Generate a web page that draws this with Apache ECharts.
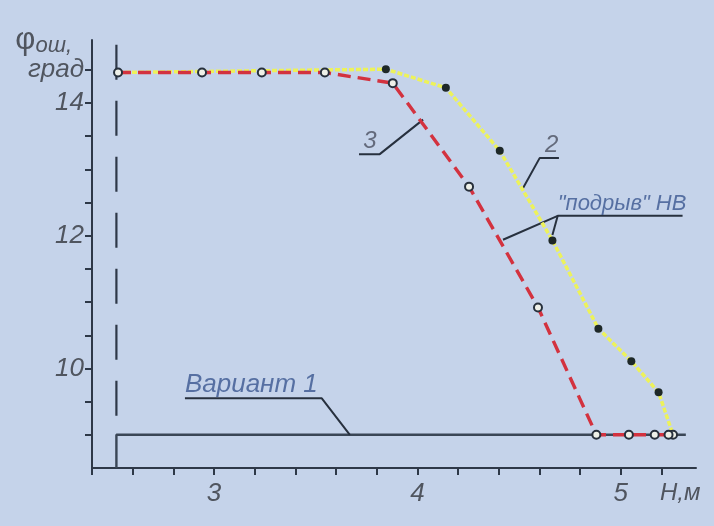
<!DOCTYPE html>
<html>
<head>
<meta charset="utf-8">
<script src="https://cdn.jsdelivr.net/npm/echarts@6/dist/echarts.min.js"></script>
<style>
  html, body { margin: 0; padding: 0; background: #c5d3ea; }
  #chart { width: 714px; height: 526px; }
</style>
</head>
<body>
<div id="chart"></div>
<script>
const FONT = '"Liberation Sans", Arial, sans-serif';

// Curve 3: red dashed, open circles  (H, m ; φ, deg)
const curve3 = [
  [2.528, 14.46], [2.941, 14.46], [3.235, 14.46], [3.545, 14.46], [3.879, 14.30],
  [4.254, 12.74], [4.593, 10.92], [4.880, 9.0], [5.040, 9.0], [5.167, 9.0], [5.235, 9.0]
];
// Curve 2: yellow dotted, filled dots (last point open)
const curve2 = [
  [2.528, 14.46], [3.845, 14.51], [4.140, 14.23], [4.405, 13.28], [4.664, 11.93],
  [4.890, 10.60], [5.052, 10.11], [5.186, 9.64], [5.257, 9.0]
];
// Variant 1: step up from the axis to 9° and flat to the end
const variant1 = [[2.52, 8.5], [2.52, 9.0], [5.32, 9.0]];
// Dashed vertical marker above the variant-1 step
const startLine = [[2.52, 14.88], [2.52, 9.0]];

// Leader lines for the curve labels
const leaderV1 = [[2.857, 9.55], [3.53, 9.55], [3.668, 9.0]];
const leader3 = [[3.713, 13.23], [3.815, 13.23], [4.028, 13.75]];
const leader2 = [[4.519, 12.717], [4.601, 13.17], [4.696, 13.17]];
const leaderBlastA = [[4.421, 11.94], [4.690, 12.30], [5.304, 12.30]];
const leaderBlastB = [[4.690, 12.30], [4.664, 12.01]];

// Label texts with their anchor points
const labelTexts = ['Вариант 1', '3', '2', '"подрыв" НВ'];
const labelAnchors = [[2.857, 9.55], [3.766, 13.23], [4.66, 13.17], [4.69, 12.30]];
const labelAlign = ['left', 'center', 'center', 'left'];
const labelColors = ['#3a5690', '#4b5060', '#4b5060', '#3a5690'];
const labelSizes = [26, 24, 24, 22];

// Axis ticks and labels
const xTicks = [2.4, 2.6, 2.8, 3.0, 3.2, 3.4, 3.6, 3.8, 4.0, 4.2, 4.4, 4.6, 4.8, 5.0, 5.2];
const xLabels = [3, 4, 5];
const yTicks = [9, 9.5, 10, 10.5, 11, 11.5, 12, 12.5, 13, 13.5, 14, 14.5];
const yLabels = [10, 12, 14, 14.5];

const AXIS = '#2e3848';
const TEXT = '#50555f';

const chart = echarts.init(document.getElementById('chart'), null, { renderer: 'canvas' });

function leader(data) {
  return {
    type: 'line', data, symbol: 'none', silent: true, z: 4,
    lineStyle: { color: '#27303e', width: 2 }, animation: false
  };
}

chart.setOption({
  backgroundColor: '#c5d3ea',
  animation: false,
  grid: { left: 92, right: 18, top: 40, bottom: 58 },
  xAxis: {
    type: 'value', min: 2.4, max: 5.37, interval: 0.2,
    splitLine: { show: false },
    axisLine: { lineStyle: { color: AXIS, width: 2 } },
    axisTick: { customValues: xTicks, length: 7, lineStyle: { color: AXIS, width: 2 } },
    axisLabel: {
      customValues: xLabels, margin: 13, color: TEXT, fontSize: 26, fontStyle: 'italic',
      fontFamily: FONT, formatter: v => String(v)
    },
    name: 'Н,м', nameLocation: 'end', nameGap: -36,
    nameTextStyle: { color: TEXT, fontSize: 24, fontStyle: 'italic', fontFamily: FONT,
      align: 'left', verticalAlign: 'top', padding: [13, 0, 0, 0] }
  },
  yAxis: {
    type: 'value', min: 8.5, max: 14.95, interval: 0.5,
    splitLine: { show: false },
    axisLine: { lineStyle: { color: AXIS, width: 2 } },
    axisTick: { customValues: yTicks, length: 7, lineStyle: { color: AXIS, width: 2 } },
    axisLabel: {
      customValues: yLabels, margin: 8, color: TEXT, fontSize: 26, fontStyle: 'italic',
      fontFamily: FONT, formatter: v => (v === 14.5 ? 'град' : String(v))
    },
    name: '{phi|φ}{sub|ош,}', nameLocation: 'end', nameGap: -4,
    nameTextStyle: {
      align: 'right', verticalAlign: 'middle', padding: [0, 20, 0, 0],
      rich: {
        phi: { fontSize: 31, color: TEXT, fontFamily: FONT, lineHeight: 34 },
        sub: { fontSize: 22, color: TEXT, fontStyle: 'italic', fontFamily: FONT,
               lineHeight: 24, verticalAlign: 'bottom' }
      }
    }
  },
  series: [
    {
      type: 'line', data: startLine, symbol: 'none', silent: true, z: 2,
      lineStyle: { color: AXIS, width: 2.2, type: [35, 21] }
    },
    {
      type: 'line', data: variant1, symbol: 'none', silent: true, z: 2,
      lineStyle: { color: '#3a4656', width: 2.4 }
    },
    {
      type: 'line', data: curve2.map((p, i) => i === curve2.length - 1
        ? { value: p, itemStyle: { color: '#eef0e8', borderColor: '#27303c', borderWidth: 2 } }
        : (i === 0 ? { value: p, symbolSize: 0 } : { value: p })),
      symbol: 'circle', symbolSize: 8, showAllSymbol: true, z: 5,
      lineStyle: { color: '#edf25a', width: 3.5, type: [5, 2] },
      itemStyle: { color: '#1e2828', borderWidth: 0 }
    },
    {
      type: 'line', data: curve3, symbol: 'circle', symbolSize: 8, showAllSymbol: true, z: 6,
      lineStyle: { color: '#d3323f', width: 3.4, type: [13, 7] },
      itemStyle: { color: '#eef0e8', borderColor: '#27303c', borderWidth: 2 }
    },
    leader(leaderV1), leader(leader3), leader(leader2), leader(leaderBlastA), leader(leaderBlastB),
    {
      type: 'scatter', silent: true, symbolSize: 0, z: 7,
      data: labelTexts.map((t, i) => ({
        value: labelAnchors[i], name: t,
        label: {
          show: true, formatter: t, position: [0, 0], offset: [0, -1],
          align: labelAlign[i], verticalAlign: 'bottom',
          color: labelColors[i], fontSize: labelSizes[i], fontStyle: 'italic', fontFamily: FONT
        }
      }))
    }
  ]
});
</script>
</body>
</html>
